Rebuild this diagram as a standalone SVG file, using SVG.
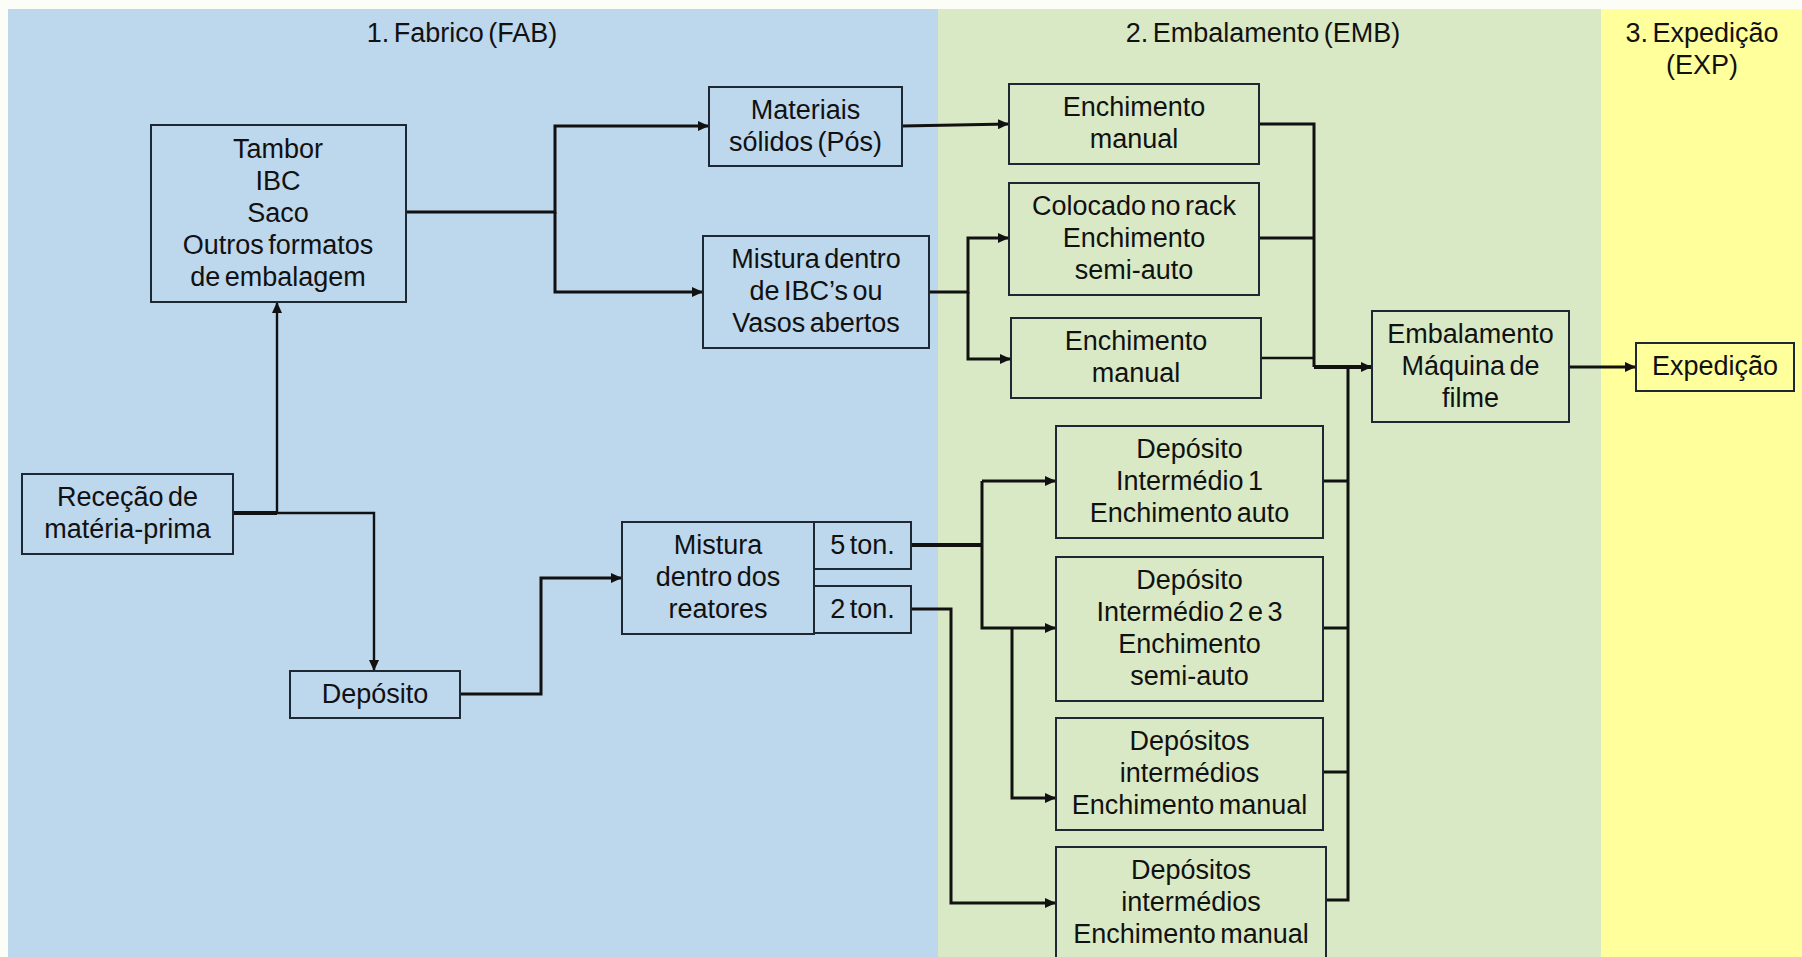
<svg xmlns="http://www.w3.org/2000/svg" width="1802" height="957" viewBox="0 0 1802 957">
  <style>
    .t { font-family: "Liberation Sans", Arial, sans-serif; font-size: 27px; fill: #111; text-anchor: middle; word-spacing: -3px; }
    .box { fill: none; stroke: #1e2833; stroke-width: 2; }
    .wire { fill: none; stroke: #111; stroke-width: 3; stroke-linejoin: miter; stroke-linecap: butt; }
    .thin { stroke-width: 2.4; }
    .bold { stroke-width: 3.8; }
    .arr { marker-end: url(#head); }
  </style>
  <defs>
    <marker id="head" markerUnits="userSpaceOnUse" markerWidth="11" markerHeight="10" refX="11" refY="5" orient="auto">
      <path d="M0,0 L11,5 L0,10 z" fill="#111"/>
    </marker>
  </defs>

  <!-- page and stage bands -->
  <rect x="0" y="0" width="1802" height="957" fill="#fdfdf8"/>
  <rect x="8" y="9" width="930" height="948" fill="#bdd7ed"/>
  <rect x="938" y="9" width="663" height="948" fill="#d9e9c5"/>
  <rect x="1601" y="9" width="201" height="948" fill="#ffff9c"/>

  <g id="stage-titles">
    <text class="t" x="462" y="42">1. Fabrico (FAB)</text>
    <text class="t" x="1263" y="42">2. Embalamento (EMB)</text>
    <text class="t" x="1702" y="42">3. Expedição</text>
    <text class="t" x="1702" y="74">(EXP)</text>
  </g>

  <!-- connectors -->
  <g id="connectors">
    <path class="wire bold" d="M233,513 H277"/>
    <path class="wire thin arr" d="M277,513 V302"/>
    <path class="wire thin arr" d="M277,513 H374 V671"/>
    <path class="wire arr" d="M460,694 H541 V578 H622"/>
    <path class="wire arr" d="M405,212 H555 V126 H709"/>
    <path class="wire arr" d="M555,212 V292 H703"/>
    <path class="wire arr" d="M902,126 L1009,124"/>
    <path class="wire arr" d="M929,292 H968 V238 H1009"/>
    <path class="wire arr" d="M968,292 V359 H1011"/>
    <path class="wire" d="M1259,124 H1314 V367"/>
    <path class="wire" d="M1259,238 H1314"/>
    <path class="wire thin" d="M1261,358 H1314"/>
    <path class="wire bold arr" d="M1314,367 H1372"/>
    <path class="wire" d="M1348,367 V900 H1326"/>
    <path class="wire" d="M1323,481 H1348"/>
    <path class="wire" d="M1323,628 H1348"/>
    <path class="wire" d="M1323,772 H1348"/>
    <path class="wire arr" d="M1569,367 H1636"/>
    <path class="wire bold" d="M911,545 H982"/>
    <path class="wire arr" d="M982,481 V628 H1056"/>
    <path class="wire arr" d="M982,481 H1056"/>
    <path class="wire arr" d="M1012,628 V798 H1056"/>
    <path class="wire arr" d="M911,609 H951 V903 H1056"/>
  </g>

  <!-- Fabrico -->
  <g id="n-tambor">
    <rect class="box" x="151" y="125" width="255" height="177"/>
    <text class="t" x="278" y="157.5">Tambor</text>
    <text class="t" x="278" y="189.5">IBC</text>
    <text class="t" x="278" y="221.5">Saco</text>
    <text class="t" x="278" y="253.5">Outros formatos</text>
    <text class="t" x="278" y="285.5">de embalagem</text>
  </g>
  <g id="n-materiais">
    <rect class="box" x="709" y="87" width="193" height="79"/>
    <text class="t" x="805.5" y="118.5">Materiais</text>
    <text class="t" x="805.5" y="150.5">sólidos (Pós)</text>
  </g>
  <g id="n-mistura-ibc">
    <rect class="box" x="703" y="236" width="226" height="112"/>
    <text class="t" x="816" y="268">Mistura dentro</text>
    <text class="t" x="816" y="300">de IBC’s ou</text>
    <text class="t" x="816" y="332">Vasos abertos</text>
  </g>
  <g id="n-rececao">
    <rect class="box" x="22" y="474" width="211" height="80"/>
    <text class="t" x="127.5" y="506">Receção de</text>
    <text class="t" x="127.5" y="538">matéria-prima</text>
  </g>
  <g id="n-deposito">
    <rect class="box" x="290" y="671" width="170" height="47"/>
    <text class="t" x="375" y="703">Depósito</text>
  </g>
  <g id="n-mistura-reatores">
    <rect class="box" x="622" y="522" width="192" height="112"/>
    <text class="t" x="718" y="554">Mistura</text>
    <text class="t" x="718" y="586">dentro dos</text>
    <text class="t" x="718" y="618">reatores</text>
  </g>
  <g id="n-5ton">
    <rect class="box" x="814" y="522" width="97" height="47"/>
    <text class="t" x="862.5" y="554">5 ton.</text>
  </g>
  <g id="n-2ton">
    <rect class="box" x="814" y="586" width="97" height="47"/>
    <text class="t" x="862.5" y="618">2 ton.</text>
  </g>

  <!-- Embalamento -->
  <g id="n-enchimento-manual-1">
    <rect class="box" x="1009" y="84" width="250" height="80"/>
    <text class="t" x="1134" y="116">Enchimento</text>
    <text class="t" x="1134" y="148">manual</text>
  </g>
  <g id="n-colocado-rack">
    <rect class="box" x="1009" y="183" width="250" height="112"/>
    <text class="t" x="1134" y="215">Colocado no rack</text>
    <text class="t" x="1134" y="247">Enchimento</text>
    <text class="t" x="1134" y="279">semi-auto</text>
  </g>
  <g id="n-enchimento-manual-2">
    <rect class="box" x="1011" y="318" width="250" height="80"/>
    <text class="t" x="1136" y="350">Enchimento</text>
    <text class="t" x="1136" y="382">manual</text>
  </g>
  <g id="n-embalamento">
    <rect class="box" x="1372" y="311" width="197" height="111"/>
    <text class="t" x="1470.5" y="342.5">Embalamento</text>
    <text class="t" x="1470.5" y="374.5">Máquina de</text>
    <text class="t" x="1470.5" y="406.5">filme</text>
  </g>
  <g id="n-deposito-int-1">
    <rect class="box" x="1056" y="426" width="267" height="112"/>
    <text class="t" x="1189.5" y="458">Depósito</text>
    <text class="t" x="1189.5" y="490">Intermédio 1</text>
    <text class="t" x="1189.5" y="522">Enchimento auto</text>
  </g>
  <g id="n-deposito-int-23">
    <rect class="box" x="1056" y="557" width="267" height="144"/>
    <text class="t" x="1189.5" y="589">Depósito</text>
    <text class="t" x="1189.5" y="621">Intermédio 2 e 3</text>
    <text class="t" x="1189.5" y="653">Enchimento</text>
    <text class="t" x="1189.5" y="685">semi-auto</text>
  </g>
  <g id="n-depositos-int-a">
    <rect class="box" x="1056" y="718" width="267" height="112"/>
    <text class="t" x="1189.5" y="750">Depósitos</text>
    <text class="t" x="1189.5" y="782">intermédios</text>
    <text class="t" x="1189.5" y="814">Enchimento manual</text>
  </g>
  <g id="n-depositos-int-b">
    <rect class="box" x="1056" y="847" width="270" height="112"/>
    <text class="t" x="1191" y="879">Depósitos</text>
    <text class="t" x="1191" y="911">intermédios</text>
    <text class="t" x="1191" y="943">Enchimento manual</text>
  </g>

  <!-- Expedição -->
  <g id="n-expedicao">
    <rect class="box" x="1636" y="343" width="158" height="48"/>
    <text class="t" x="1715" y="375">Expedição</text>
  </g>
</svg>
